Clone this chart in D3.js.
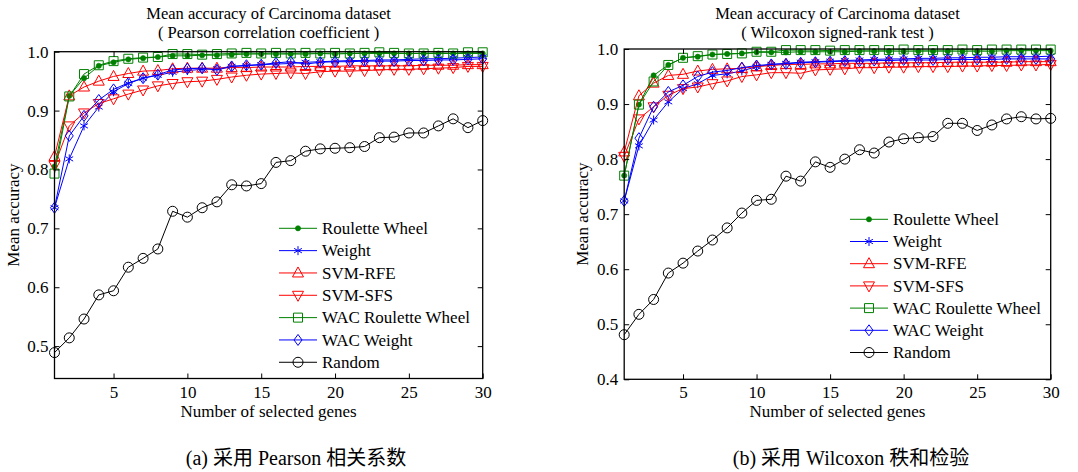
<!DOCTYPE html>
<html>
<head>
<meta charset="utf-8">
<script src="https://cdn.jsdelivr.net/npm/d3@7"></script>
<style>
  html, body { margin: 0; padding: 0; background: #fff; }
  svg text { font-family: "Liberation Serif", "Times New Roman", "DejaVu Serif", "Noto Sans CJK SC", serif; fill: #000; }
</style>
</head>
<body>
<svg id="chart" width="1078" height="472"></svg>
<script>
// ---------- data ----------
const genes = [1,2,3,4,5,6,7,8,9,10,11,12,13,14,15,16,17,18,19,20,21,22,23,24,25,26,27,28,29,30];
const xTicks = [5, 10, 15, 20, 25, 30];
const leftYTicks = [0.5, 0.6, 0.7, 0.8, 0.9, 1.0];
const rightYTicks = [0.4, 0.5, 0.6, 0.7, 0.8, 0.9, 1.0];
const seriesNames = ["Roulette Wheel", "Weight", "SVM-RFE", "SVM-SFS", "WAC Roulette Wheel", "WAC Weight", "Random"];

// Left panel: Pearson correlation coefficient
const leftRW = [0.805,0.925,0.955,0.976,0.982,0.987,0.989,0.991,0.993,0.993,0.994,0.994,0.995,0.996,0.996,0.996,0.996,0.996,0.997,0.996,0.997,0.997,0.997,0.997,0.997,0.997,0.997,0.997,0.997,0.997];
const leftWeight = [0.735,0.818,0.874,0.906,0.932,0.946,0.955,0.960,0.965,0.968,0.970,0.971,0.975,0.976,0.978,0.979,0.980,0.982,0.983,0.984,0.985,0.985,0.986,0.986,0.987,0.988,0.988,0.989,0.990,0.991];
const leftSVMRFE = [0.822,0.925,0.940,0.950,0.958,0.963,0.967,0.968,0.971,0.972,0.972,0.972,0.973,0.973,0.974,0.974,0.974,0.975,0.975,0.975,0.976,0.976,0.976,0.976,0.976,0.977,0.977,0.977,0.978,0.978];
const leftSVMSFS = [0.807,0.874,0.896,0.912,0.920,0.928,0.935,0.942,0.946,0.949,0.950,0.953,0.957,0.960,0.962,0.963,0.964,0.963,0.966,0.967,0.967,0.968,0.969,0.970,0.970,0.971,0.972,0.973,0.975,0.975];
const leftWACRW = [0.793,0.924,0.962,0.977,0.984,0.988,0.990,0.991,0.996,0.996,0.995,0.996,0.997,0.998,0.997,0.998,0.997,0.998,0.997,0.998,0.997,0.998,0.999,0.998,0.997,0.997,0.998,0.997,0.999,0.999];
const leftWACWeight = [0.735,0.857,0.891,0.918,0.936,0.947,0.955,0.961,0.969,0.971,0.972,0.969,0.975,0.977,0.978,0.981,0.983,0.979,0.982,0.983,0.983,0.984,0.984,0.984,0.985,0.985,0.986,0.986,0.987,0.988];
const leftRandom = [0.489,0.514,0.546,0.587,0.594,0.634,0.649,0.665,0.729,0.719,0.735,0.745,0.774,0.772,0.776,0.812,0.815,0.831,0.835,0.836,0.837,0.839,0.854,0.855,0.862,0.862,0.874,0.886,0.871,0.883];

// Right panel: Wilcoxon signed-rank test
const rightRW = [0.770,0.899,0.952,0.971,0.984,0.986,0.990,0.991,0.992,0.994,0.994,0.994,0.995,0.995,0.995,0.995,0.996,0.996,0.996,0.996,0.996,0.996,0.996,0.996,0.996,0.996,0.997,0.997,0.997,0.997];
const rightWeight = [0.724,0.824,0.871,0.904,0.928,0.937,0.952,0.955,0.960,0.968,0.972,0.974,0.976,0.977,0.978,0.979,0.980,0.981,0.982,0.982,0.983,0.983,0.984,0.984,0.985,0.985,0.986,0.986,0.986,0.987];
const rightSVMRFE = [0.813,0.915,0.938,0.952,0.954,0.960,0.963,0.964,0.965,0.968,0.970,0.972,0.972,0.973,0.973,0.974,0.974,0.974,0.975,0.975,0.975,0.975,0.976,0.976,0.976,0.976,0.976,0.977,0.977,0.977];
const rightSVMSFS = [0.805,0.873,0.895,0.916,0.928,0.931,0.937,0.942,0.950,0.953,0.957,0.957,0.956,0.962,0.963,0.964,0.966,0.966,0.967,0.967,0.968,0.968,0.968,0.969,0.969,0.970,0.970,0.971,0.971,0.972];
const rightWACRW = [0.770,0.899,0.941,0.971,0.984,0.987,0.990,0.991,0.992,0.995,0.995,0.998,0.998,0.998,0.997,0.998,0.998,0.998,0.998,0.999,0.998,0.998,0.998,0.999,0.998,0.999,0.999,0.999,0.999,0.999];
const rightWACWeight = [0.724,0.838,0.895,0.922,0.934,0.950,0.958,0.961,0.966,0.970,0.972,0.973,0.975,0.976,0.977,0.978,0.978,0.979,0.979,0.980,0.980,0.980,0.981,0.981,0.981,0.981,0.982,0.982,0.982,0.982];
const rightRandom = [0.481,0.518,0.545,0.593,0.611,0.633,0.653,0.675,0.702,0.725,0.727,0.769,0.760,0.795,0.785,0.800,0.817,0.811,0.831,0.837,0.839,0.841,0.865,0.865,0.852,0.862,0.873,0.877,0.873,0.874];

// ---------- styles ----------
const GREEN = "#008000", BLUE = "#0000ff", RED = "#ff0000", BLACK = "#000000";
const SERIF = '"Liberation Serif", "Times New Roman", "DejaVu Serif", serif';
const seriesStyle = [
  {color: GREEN, marker: "dot"},
  {color: BLUE,  marker: "star"},
  {color: RED,   marker: "triUp"},
  {color: RED,   marker: "triDown"},
  {color: GREEN, marker: "square"},
  {color: BLUE,  marker: "diamond"},
  {color: BLACK, marker: "circle"}
];

function markerPath(type) {
  switch (type) {
    case "triUp":   return "M0,-6L5.5,4L-5.5,4Z";
    case "triDown": return "M0,6L5.5,-4L-5.5,-4Z";
    case "square":  return "M-4.5,-4.5H4.5V4.5H-4.5Z";
    case "diamond": return "M0,-5.5L4,0L0,5.5L-4,0Z";
    case "star":    return "M0,-4.5V4.5M-3.9,-2.25L3.9,2.25M-3.9,2.25L3.9,-2.25";
    default: return null;
  }
}

function drawMarker(g, type, color, cx, cy) {
  if (type === "dot") {
    g.append("circle").attr("cx", cx).attr("cy", cy).attr("r", 2.6).attr("fill", color).attr("stroke", color).attr("stroke-width", 0.6);
  } else if (type === "circle") {
    g.append("circle").attr("cx", cx).attr("cy", cy).attr("r", 5).attr("fill", "none").attr("stroke", color).attr("stroke-width", 1);
  } else {
    g.append("path").attr("d", markerPath(type)).attr("transform", `translate(${cx},${cy})`)
      .attr("fill", "none").attr("stroke", color).attr("stroke-width", 1);
  }
}

const svg = d3.select("#chart");

function drawPanel(cfg) {
  const x = d3.scaleLinear().domain([1, 30]).range([cfg.left, cfg.right]);
  const y = d3.scaleLinear().domain(cfg.yDomain).range([cfg.bottom, cfg.top]);
  const g = svg.append("g");

  // lines + markers
  cfg.series.forEach((vals, i) => {
    const st = seriesStyle[i];
    const line = d3.line().x((d, j) => x(genes[j])).y(d => y(d));
    g.append("path").datum(vals).attr("d", line).attr("fill", "none")
      .attr("stroke", st.color).attr("stroke-width", 1);
    const mg = g.append("g");
    vals.forEach((v, j) => drawMarker(mg, st.marker, st.color, x(genes[j]), y(v)));
  });

  // axes (inward ticks on all four sides)
  const ax = g.append("g").attr("transform", `translate(0,${cfg.bottom})`)
    .call(d3.axisBottom(x).tickValues(xTicks).tickSize(-5).tickPadding(7).tickFormat(d3.format("d")));
  const axT = g.append("g").attr("transform", `translate(0,${cfg.top})`)
    .call(d3.axisTop(x).tickValues(xTicks).tickSize(-5).tickFormat(""));
  const ay = g.append("g").attr("transform", `translate(${cfg.left},0)`)
    .call(d3.axisLeft(y).tickValues(cfg.yTicks).tickSize(-5).tickPadding(6).tickFormat(d3.format(".1f")));
  const ayR = g.append("g").attr("transform", `translate(${cfg.right},0)`)
    .call(d3.axisRight(y).tickValues(cfg.yTicks).tickSize(-5).tickFormat(""));
  [ax, axT, ay, ayR].forEach(a => {
    a.attr("font-family", null).attr("font-size", null);
    a.select(".domain").remove();
    a.selectAll("line").attr("stroke", "#000").attr("stroke-width", 1);
    a.selectAll("text").style("font-family", SERIF).style("font-size", "17px").attr("fill", "#000");
  });

  // frame
  g.append("rect").attr("x", cfg.left).attr("y", cfg.top)
    .attr("width", cfg.right - cfg.left).attr("height", cfg.bottom - cfg.top)
    .attr("fill", "none").attr("stroke", "#000").attr("stroke-width", 1.3);

  // titles
  const cx = (cfg.left + cfg.right) / 2;
  g.append("text").attr("x", cx).attr("y", 19).attr("text-anchor", "middle")
    .style("font-family", SERIF).style("font-size", "16.5px").text(cfg.title1);
  g.append("text").attr("x", cx).attr("y", 37.5).attr("text-anchor", "middle")
    .style("font-family", SERIF).style("font-size", "16.5px").text(cfg.title2);

  // axis labels
  g.append("text").attr("x", cx).attr("y", 417).attr("text-anchor", "middle")
    .style("font-family", SERIF).style("font-size", "17px").text("Number of selected genes");
  g.append("text").attr("transform", `translate(${cfg.ylabX},${(cfg.top + cfg.bottom) / 2}) rotate(-90)`)
    .attr("text-anchor", "middle").style("font-family", SERIF).style("font-size", "17px").text("Mean accuracy");

  // legend
  const lg = g.append("g");
  seriesNames.forEach((name, i) => {
    const st = seriesStyle[i];
    const ly = cfg.legY + i * cfg.legStep;
    lg.append("line").attr("x1", cfg.legX).attr("x2", cfg.legX + 38).attr("y1", ly).attr("y2", ly)
      .attr("stroke", st.color).attr("stroke-width", 1);
    drawMarker(lg, st.marker, st.color, cfg.legX + 19, ly);
    lg.append("text").attr("x", cfg.legX + 43).attr("y", ly).attr("dy", "0.34em")
      .style("font-family", SERIF).style("font-size", "17px").text(name);
  });

  // caption
  svg.append("text").attr("x", cfg.capX).attr("y", 465).attr("text-anchor", "middle")
    .style("font-family", '"Liberation Serif", "Noto Sans CJK SC", serif')
    .style("font-size", "20px").text(cfg.caption);
}

drawPanel({
  left: 54.5, right: 482.7, top: 51.7, bottom: 378.5, yDomain: [0.445, 1.0], yTicks: leftYTicks,
  series: [leftRW, leftWeight, leftSVMRFE, leftSVMSFS, leftWACRW, leftWACWeight, leftRandom],
  title1: "Mean accuracy of Carcinoma dataset", title2: "( Pearson correlation coefficient )",
  ylabX: 19, legX: 279, legY: 228.3, legStep: 22.33,
  capX: 296, caption: "(a)  采用 Pearson 相关系数"
});

drawPanel({
  left: 624.2, right: 1050.7, top: 49, bottom: 379.3, yDomain: [0.4, 1.0], yTicks: rightYTicks,
  series: [rightRW, rightWeight, rightSVMRFE, rightSVMSFS, rightWACRW, rightWACWeight, rightRandom],
  title1: "Mean accuracy of Carcinoma dataset", title2: "( Wilcoxon signed-rank test )",
  ylabX: 588, legX: 850, legY: 219.3, legStep: 22.2,
  capX: 851, caption: "(b)  采用 Wilcoxon 秩和检验"
});
</script>
</body>
</html>
